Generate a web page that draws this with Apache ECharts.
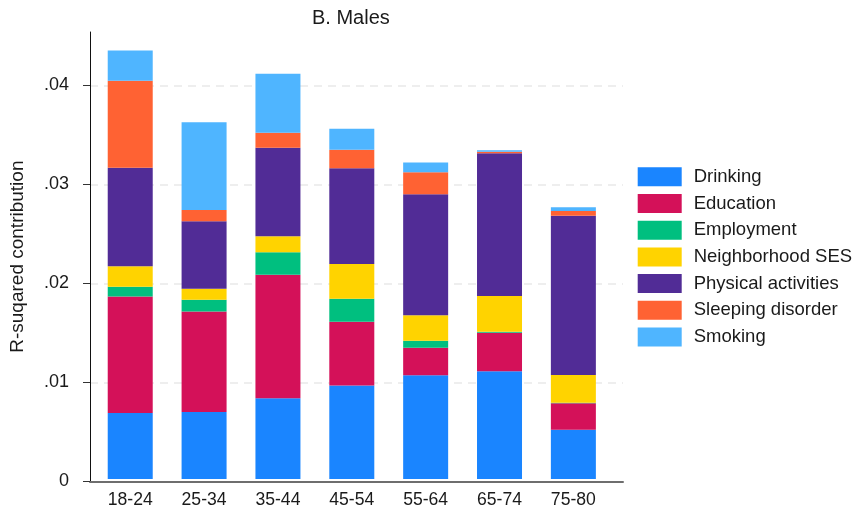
<!DOCTYPE html>
<html>
<head>
<meta charset="utf-8">
<script src="https://cdn.jsdelivr.net/npm/echarts@6/dist/echarts.min.js"></script>
<style>
  html, body { margin: 0; padding: 0; background: #fff; }
  #chart { width: 856px; height: 509px; }
</style>
</head>
<body>
<div id="chart"></div>
<script>
// Age groups along the x axis
const ageGroups = ['18-24', '25-34', '35-44', '45-54', '55-64', '65-74', '75-80'];

// R-squared contribution of each factor, per age group (males)
const drinking      = [0.0067, 0.0068, 0.0082, 0.0095, 0.01054, 0.01094, 0.0050];
const education     = [0.01182, 0.0102, 0.01253, 0.00646, 0.00279, 0.0039, 0.00268];
const employment    = [0.0010, 0.00121, 0.00229, 0.00235, 0.00071, 0.0001, 0.00005];
const neighborhood  = [0.00207, 0.00111, 0.00162, 0.00351, 0.00259, 0.00364, 0.00283];
const physical      = [0.01002, 0.00684, 0.00899, 0.00973, 0.01229, 0.0145, 0.01616];
const sleeping      = [0.00881, 0.00114, 0.00151, 0.00188, 0.00222, 0.00014, 0.0005];
const smoking       = [0.00307, 0.00892, 0.00599, 0.00213, 0.00098, 0.00016, 0.00038];

// Y tick values and labels
const yTicks = [0, 0.01, 0.02, 0.03, 0.04];
const yTickLabels = ['0', '.01', '.02', '.03', '.04'];

const seriesDefs = [
  { name: 'Drinking',           data: drinking,     color: '#1a85ff' },
  { name: 'Education',          data: education,    color: '#d41159' },
  { name: 'Employment',         data: employment,   color: '#00bf7f' },
  { name: 'Neighborhood SES',   data: neighborhood, color: '#ffd300' },
  { name: 'Physical activities',data: physical,     color: '#512c96' },
  { name: 'Sleeping disorder',  data: sleeping,     color: '#ff6233' },
  { name: 'Smoking',            data: smoking,      color: '#4fb5ff' }
];

const FONT = '"Liberation Sans", Arial, sans-serif';
const Y_MAX = 0.04538;

const chart = echarts.init(document.getElementById('chart'), null, { renderer: 'canvas' });

chart.setOption({
  animation: false,
  backgroundColor: '#ffffff',
  textStyle: { fontFamily: FONT },
  title: {
    text: 'B. Males',
    left: 312,
    top: 8,
    padding: 0,
    textStyle: { fontFamily: FONT, fontSize: 20, fontWeight: 'normal', color: '#1a1a1a' }
  },
  legend: {
    orient: 'vertical',
    left: 637.7,
    top: 167.3,
    padding: 0,
    itemWidth: 44,
    itemHeight: 19,
    itemGap: 7.7,
    icon: 'rect',
    data: seriesDefs.map(s => s.name),
    textStyle: { fontFamily: FONT, fontSize: 18.5, color: '#1a1a1a', padding: [4, 0, 0, 7] }
  },
  grid: [
    // frame: axes and gridlines span the full plot region
    { left: 80, right: 233, top: 32, bottom: 27.7 },
    // bars sit inside an inner region with side margins
    { left: 93.3, right: 245.7, top: 32, bottom: 27.7 }
  ],
  xAxis: [
    {
      gridIndex: 0, type: 'value', min: 0, max: 1,
      axisLine: { show: true, onZero: false, lineStyle: { color: '#6e6e6e', width: 2 } },
      axisTick: { show: false }, axisLabel: { show: false }, splitLine: { show: false }
    },
    {
      gridIndex: 1, type: 'category', data: ageGroups,
      axisLine: { show: false }, axisTick: { show: false },
      axisLabel: { margin: 12, fontSize: 17.6, color: '#1a1a1a', fontFamily: FONT }
    }
  ],
  yAxis: [
    {
      gridIndex: 0, type: 'value', min: 0, max: Y_MAX, interval: 0.01,
      name: 'R-suqared contribution',
      nameLocation: 'middle', nameGap: 63, nameRotate: 90,
      nameTextStyle: { fontFamily: FONT, fontSize: 19, color: '#1a1a1a' },
      axisLine: { show: true, lineStyle: { color: '#111', width: 1 } },
      axisTick: { show: true, length: 7, lineStyle: { color: '#333' }, customValues: yTicks },
      axisLabel: {
        margin: 21, fontSize: 18, color: '#1a1a1a', fontFamily: FONT,
        customValues: yTicks,
        formatter: v => {
          const i = yTicks.findIndex(t => Math.abs(t - v) < 1e-9);
          return i >= 0 ? yTickLabels[i] : '';
        }
      },
      splitLine: {
        show: true, showMinLine: false, showMaxLine: true,
        lineStyle: { color: '#e9e9e9', width: 1.5, type: [8, 6] }
      }
    },
    {
      gridIndex: 1, type: 'value', min: 0, max: Y_MAX,
      show: false, splitLine: { show: false }
    }
  ],
  series: seriesDefs.map(s => ({
    name: s.name,
    type: 'bar',
    stack: 'total',
    xAxisIndex: 1,
    yAxisIndex: 1,
    barWidth: 45,
    data: s.data,
    itemStyle: { color: s.color }
  }))
});
</script>
</body>
</html>
